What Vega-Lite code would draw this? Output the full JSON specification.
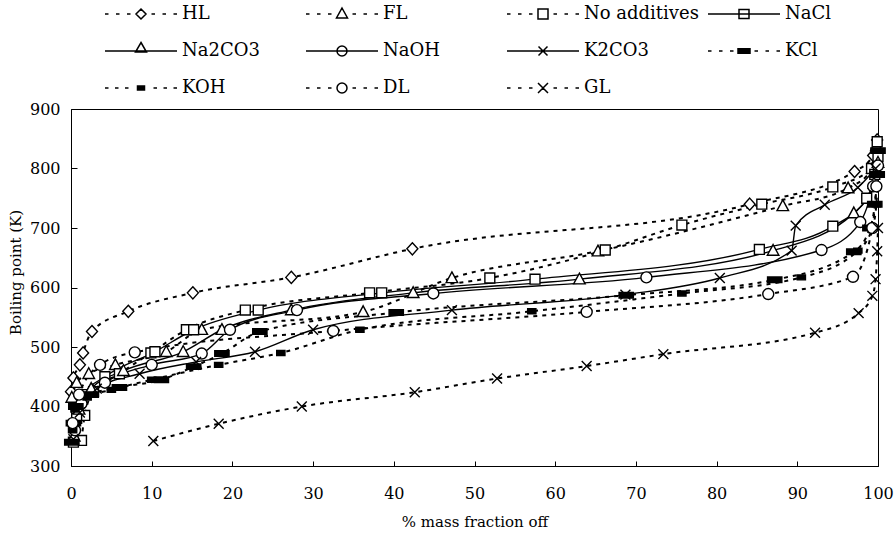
{
"$schema": "https://vega.github.io/schema/vega-lite/v6.json",
"width": 807, "height": 357,
"autosize": {"type": "none"},
"padding": {"left": 71, "top": 109, "right": 16, "bottom": 70},
"background": "white",
"config": {"view": {"stroke": "black", "strokeWidth": 1}, "font": "DejaVu Serif"},
"data": {"values": [
{"s":"HL","x":0.0,"y":425},{"s":"HL","x":0.3,"y":448},{"s":"HL","x":1.1,"y":470},{"s":"HL","x":1.5,"y":490},{"s":"HL","x":2.6,"y":526},{"s":"HL","x":7.1,"y":560},{"s":"HL","x":15.1,"y":591},{"s":"HL","x":27.3,"y":617},{"s":"HL","x":42.3,"y":665},{"s":"HL","x":84.1,"y":740},{"s":"HL","x":97.1,"y":795},{"s":"HL","x":99.4,"y":822},{"s":"HL","x":99.9,"y":848},
{"s":"FL","x":0.1,"y":415},{"s":"FL","x":0.7,"y":440},{"s":"FL","x":2.2,"y":455},{"s":"FL","x":5.5,"y":470},{"s":"FL","x":11.8,"y":492},{"s":"FL","x":16.2,"y":529},{"s":"FL","x":36.2,"y":559},{"s":"FL","x":47.2,"y":616},{"s":"FL","x":65.3,"y":661},{"s":"FL","x":88.2,"y":737},{"s":"FL","x":96.3,"y":767},{"s":"FL","x":99.3,"y":800},{"s":"FL","x":99.8,"y":838},
{"s":"No additives","x":1.3,"y":343},{"s":"No additives","x":1.7,"y":385},{"s":"No additives","x":2.8,"y":425},{"s":"No additives","x":6.0,"y":455},{"s":"No additives","x":9.9,"y":490},{"s":"No additives","x":14.3,"y":529},{"s":"No additives","x":21.6,"y":562},{"s":"No additives","x":37.0,"y":591},{"s":"No additives","x":51.9,"y":616},{"s":"No additives","x":66.2,"y":663},{"s":"No additives","x":75.7,"y":705},{"s":"No additives","x":85.6,"y":740},{"s":"No additives","x":94.4,"y":769},{"s":"No additives","x":99.2,"y":800},{"s":"No additives","x":99.9,"y":845},
{"s":"NaCl","x":0.3,"y":340},{"s":"NaCl","x":0.7,"y":380},{"s":"NaCl","x":1.6,"y":420},{"s":"NaCl","x":4.2,"y":450},{"s":"NaCl","x":10.4,"y":492},{"s":"NaCl","x":15.2,"y":529},{"s":"NaCl","x":23.2,"y":562},{"s":"NaCl","x":38.5,"y":591},{"s":"NaCl","x":57.5,"y":614},{"s":"NaCl","x":85.3,"y":664},{"s":"NaCl","x":94.4,"y":703},{"s":"NaCl","x":98.6,"y":750},{"s":"NaCl","x":99.6,"y":790},{"s":"NaCl","x":100,"y":820},
{"s":"Na2CO3","x":0.4,"y":350},{"s":"Na2CO3","x":1.0,"y":395},{"s":"Na2CO3","x":2.5,"y":430},{"s":"Na2CO3","x":6.5,"y":460},{"s":"Na2CO3","x":13.9,"y":492},{"s":"Na2CO3","x":18.7,"y":529},{"s":"Na2CO3","x":27.3,"y":562},{"s":"Na2CO3","x":42.4,"y":591},{"s":"Na2CO3","x":63.0,"y":614},{"s":"Na2CO3","x":87.0,"y":662},{"s":"Na2CO3","x":97.0,"y":725},{"s":"Na2CO3","x":99.5,"y":775},{"s":"Na2CO3","x":100,"y":810},
{"s":"NaOH","x":0.5,"y":360},{"s":"NaOH","x":1.3,"y":405},{"s":"NaOH","x":4.2,"y":440},{"s":"NaOH","x":10.0,"y":470},{"s":"NaOH","x":16.2,"y":489},{"s":"NaOH","x":19.7,"y":529},{"s":"NaOH","x":28.0,"y":562},{"s":"NaOH","x":44.9,"y":590},{"s":"NaOH","x":71.3,"y":617},{"s":"NaOH","x":93.0,"y":663},{"s":"NaOH","x":97.8,"y":710},{"s":"NaOH","x":99.4,"y":770},{"s":"NaOH","x":100,"y":805},
{"s":"K2CO3","x":0.3,"y":345},{"s":"K2CO3","x":1.1,"y":390},{"s":"K2CO3","x":3.2,"y":430},{"s":"K2CO3","x":8.5,"y":455},{"s":"K2CO3","x":15.5,"y":475},{"s":"K2CO3","x":22.8,"y":492},{"s":"K2CO3","x":30.0,"y":529},{"s":"K2CO3","x":47.2,"y":562},{"s":"K2CO3","x":68.7,"y":588},{"s":"K2CO3","x":80.4,"y":616},{"s":"K2CO3","x":89.3,"y":662},{"s":"K2CO3","x":89.8,"y":704},{"s":"K2CO3","x":93.4,"y":739},{"s":"K2CO3","x":97.5,"y":768},{"s":"K2CO3","x":99.7,"y":800},
{"s":"KCl","x":0.1,"y":340},{"s":"KCl","x":0.3,"y":372},{"s":"KCl","x":0.6,"y":400},{"s":"KCl","x":2.5,"y":420},{"s":"KCl","x":6.0,"y":432},{"s":"KCl","x":11.2,"y":445},{"s":"KCl","x":15.2,"y":467},{"s":"KCl","x":18.7,"y":489},{"s":"KCl","x":23.4,"y":526},{"s":"KCl","x":40.3,"y":558},{"s":"KCl","x":68.8,"y":587},{"s":"KCl","x":87.2,"y":613},{"s":"KCl","x":97.0,"y":660},{"s":"KCl","x":99.0,"y":700},{"s":"KCl","x":99.6,"y":740},{"s":"KCl","x":99.9,"y":790},{"s":"KCl","x":100,"y":830},
{"s":"KOH","x":0.2,"y":360},{"s":"KOH","x":0.5,"y":395},{"s":"KOH","x":2.0,"y":415},{"s":"KOH","x":5.0,"y":428},{"s":"KOH","x":10.0,"y":445},{"s":"KOH","x":18.3,"y":470},{"s":"KOH","x":26.0,"y":490},{"s":"KOH","x":35.8,"y":529},{"s":"KOH","x":57.1,"y":560},{"s":"KOH","x":75.7,"y":590},{"s":"KOH","x":90.5,"y":617},{"s":"KOH","x":97.5,"y":662},{"s":"KOH","x":99.3,"y":700},{"s":"KOH","x":99.8,"y":740},{"s":"KOH","x":100,"y":790},
{"s":"DL","x":0.2,"y":372},{"s":"DL","x":1.0,"y":420},{"s":"DL","x":3.6,"y":470},{"s":"DL","x":7.9,"y":491},{"s":"DL","x":32.5,"y":527},{"s":"DL","x":63.9,"y":559},{"s":"DL","x":86.4,"y":589},{"s":"DL","x":96.9,"y":618},{"s":"DL","x":99.3,"y":700},{"s":"DL","x":99.8,"y":770},
{"s":"GL","x":10.2,"y":342},{"s":"GL","x":18.3,"y":371},{"s":"GL","x":28.6,"y":400},{"s":"GL","x":42.6,"y":424},{"s":"GL","x":52.8,"y":447},{"s":"GL","x":63.9,"y":468},{"s":"GL","x":73.4,"y":488},{"s":"GL","x":92.2,"y":524},{"s":"GL","x":97.6,"y":557},{"s":"GL","x":99.3,"y":586},{"s":"GL","x":99.7,"y":614},{"s":"GL","x":99.9,"y":661},{"s":"GL","x":100,"y":700}
]},
"encoding": {
  "x": {"field": "x", "type": "quantitative", "scale": {"domain": [0, 100], "nice": false},
    "axis": {"values": [0,10,20,30,40,50,60,70,80,90,100], "grid": false, "title": "% mass fraction off",
      "titleFont": "DejaVu Serif", "titleFontSize": 15, "titleFontWeight": "normal", "titleColor": "black",
      "titleX": 403.5, "titleY": 55, "titleBaseline": "middle",
      "labelFont": "DejaVu Serif", "labelFontSize": 16, "labelColor": "black", "labelFlush": false, "labelOverlap": false,
      "tickSize": -5, "tickColor": "black", "domainColor": "black", "labelPadding": 24}},
  "y": {"field": "y", "type": "quantitative", "scale": {"domain": [300, 900], "nice": false, "zero": false},
    "axis": {"values": [300,400,500,600,700,800,900], "grid": false, "title": "Boiling point (K)",
      "titleFont": "DejaVu Serif", "titleFontSize": 15, "titleFontWeight": "normal", "titleColor": "black",
      "titleX": -56, "titleY": 163, "titleAngle": -90, "titleAlign": "center", "titleBaseline": "middle",
      "labelFont": "DejaVu Serif", "labelFontSize": 16, "labelColor": "black", "labelFlush": false, "labelOverlap": false,
      "tickSize": -6, "tickColor": "black", "domainColor": "black", "labelPadding": 17}}
},
"layer": [
  {"transform": [{"filter": {"field": "s", "oneOf": ["HL","FL","No additives","KCl","KOH","DL","GL"]}}],
   "mark": {"type": "line", "interpolate": "monotone", "color": "black", "strokeWidth": 2, "strokeDash": [4, 5]},
   "encoding": {"detail": {"field": "s"}}},
  {"transform": [{"filter": {"field": "s", "oneOf": ["NaCl","Na2CO3","NaOH","K2CO3"]}}],
   "mark": {"type": "line", "interpolate": "monotone", "color": "black", "strokeWidth": 1.4},
   "encoding": {"detail": {"field": "s"}}},
  {"mark": {"type": "point", "filled": true, "stroke": "black", "strokeWidth": 1.4, "size": 121, "opacity": 1},
   "encoding": {
     "shape": {"field": "s", "type": "nominal", "legend": null, "scale": {
       "domain": ["HL","FL","No additives","NaCl","Na2CO3","NaOH","K2CO3","KCl","KOH","DL","GL"],
       "range": ["M0,-1.1L1,0L0,1.1L-1,0Z","M0,-1.1L1.05,0.85H-1.05Z","M-0.9,-0.9H0.9V0.9H-0.9Z","M-0.9,-0.9H0.9V0.9H-0.9Z","M0,-1.1L1.05,0.85H-1.05Z","M-1,0A1,1,0,1,0,1,0A1,1,0,1,0,-1,0Z","M-0.9,-0.9L0.9,0.9M-0.9,0.9L0.9,-0.9","M-1.3,-0.5H1.3V0.5H-1.3Z","M-0.75,-0.45H0.75V0.45H-0.75Z","M-1,0A1,1,0,1,0,1,0A1,1,0,1,0,-1,0Z","M-0.9,-0.9L0.9,0.9M-0.9,0.9L0.9,-0.9"]}},
     "fill": {"field": "s", "type": "nominal", "legend": null, "scale": {
       "domain": ["HL","FL","No additives","NaCl","Na2CO3","NaOH","K2CO3","KCl","KOH","DL","GL"],
       "range": ["white","white","white","white","white","white","white","black","black","white","white"]}}
   }},
  {"mark": {"type": "point", "filled": true, "stroke": "black", "strokeWidth": 1.5, "opacity": 0},
   "encoding": {
     "shape": {"field": "s", "type": "nominal",
       "legend": {"title": null, "orient": "none", "direction": "horizontal", "legendX": 61, "legendY": -104, "columns": 4, "gridAlign": "all",
         "columnPadding": 6, "rowPadding": 16, "symbolSize": 100, "symbolStrokeWidth": 1.5, "symbolStrokeColor": "black",
         "symbolOpacity": 1, "labelFont": "DejaVu Serif", "labelFontSize": 18, "labelColor": "black", "labelOffset": 32,
         "padding": 0, "labelLimit": 300,
         "encode": {"symbols": {"update": {"stroke": {"value": "black"}, "strokeWidth": {"value": 1.5}, "opacity": {"value": 1}, "strokeOpacity": {"value": 1}}}}},
       "scale": {
       "domain": ["HL","FL","No additives","NaCl","Na2CO3","NaOH","K2CO3","KCl","KOH","DL","GL"],
       "range": [
         "M-7.2,0H-6.5M-5,0H-4.3M-2.8,0H-2.1M2.1,0H2.8M4.3,0H5M6.5,0H7.2M0,-1L1,0L0,1L-1,0Z",
         "M-7.2,0H-6.5M-5,0H-4.3M-2.8,0H-2.1M2.1,0H2.8M4.3,0H5M6.5,0H7.2M0,-1.2L1.1,0.8H-1.1Z",
         "M-7.2,0H-6.5M-5,0H-4.3M-2.8,0H-2.1M2.1,0H2.8M4.3,0H5M6.5,0H7.2M-1,-1H1V1H-1Z",
         "M-7.2,0H7.2M-1,-0.9H1V0.9H-1Z",
         "M-7.2,0H7.2M0,-1.7L1.1,0.2H-1.1Z",
         "M-7.2,0H7.2M-1,0A1,1,0,1,0,1,0A1,1,0,1,0,-1,0Z",
         "M-7.2,0H7.2M-0.9,-0.9L0.9,0.9M-0.9,0.9L0.9,-0.9",
         "M-7.2,0H-6.5M-5,0H-4.3M-2.8,0H-2.1M2.1,0H2.8M4.3,0H5M6.5,0H7.2M-1.2,-0.45H1.2V0.45H-1.2Z",
         "M-7.2,0H-6.5M-5.2,0H-4.5M-3.2,0H-2.5M2.5,0H3.2M4.5,0H5.2M6.5,0H7.2M-0.7,-0.4H0.7V0.4H-0.7Z",
         "M-7.2,0H-6.5M-5,0H-4.3M-2.8,0H-2.1M2.1,0H2.8M4.3,0H5M6.5,0H7.2M-1,0A1,1,0,1,0,1,0A1,1,0,1,0,-1,0Z",
         "M-7.2,0H-6.5M-5,0H-4.3M-2.8,0H-2.1M2.1,0H2.8M4.3,0H5M6.5,0H7.2M-1,-1L1,1M-1,1L1,-1"]}},
     "fill": {"field": "s", "type": "nominal",
       "legend": {"title": null, "orient": "none", "direction": "horizontal", "legendX": 61, "legendY": -104, "columns": 4, "gridAlign": "all",
         "columnPadding": 6, "rowPadding": 16, "symbolSize": 100, "symbolStrokeWidth": 1.5, "symbolStrokeColor": "black",
         "symbolOpacity": 1, "labelFont": "DejaVu Serif", "labelFontSize": 18, "labelColor": "black", "labelOffset": 32,
         "padding": 0, "labelLimit": 300,
         "encode": {"symbols": {"update": {"stroke": {"value": "black"}, "strokeWidth": {"value": 1.5}, "opacity": {"value": 1}, "strokeOpacity": {"value": 1}}}}},
       "scale": {
       "domain": ["HL","FL","No additives","NaCl","Na2CO3","NaOH","K2CO3","KCl","KOH","DL","GL"],
       "range": ["white","white","white","white","white","white","white","black","black","white","white"]}}
   }}
],
"resolve": {"scale": {"shape": "independent", "fill": "independent"}}
}
